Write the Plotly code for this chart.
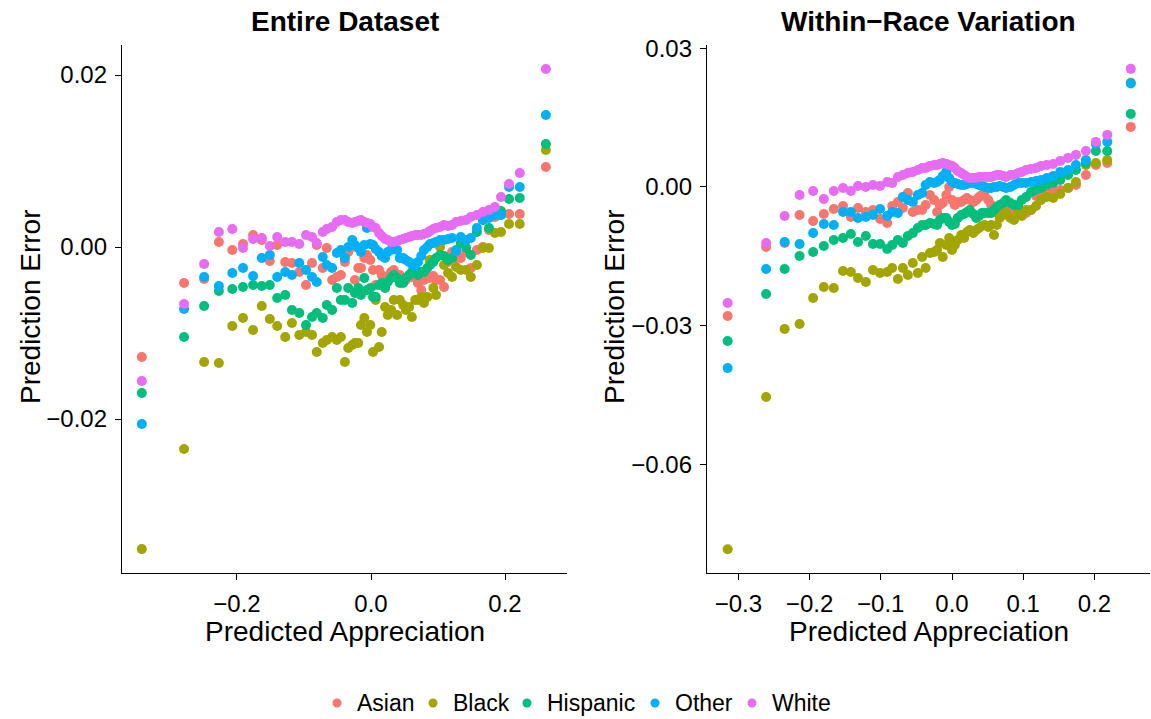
import plotly.graph_objects as go

# ---------------------------------------------------------------------------
# Data: binned predicted appreciation (x) and mean prediction error per race.
# Error values are stored in thousandths (1e-3) and scaled when plotted.
# ---------------------------------------------------------------------------
races = ["Asian", "Black", "Hispanic", "Other", "White"]
colors = ["#F8766D", "#A3A500", "#00BF7D", "#00B0F6", "#E76BF3"]

# Panel 1: entire dataset
entire_x = [-0.342, -0.279, -0.249, -0.227, -0.207, -0.191, -0.176, -0.163, -0.151, -0.140,
            -0.128, -0.118, -0.107, -0.097, -0.088, -0.081, -0.072, -0.066, -0.058, -0.051,
            -0.045, -0.039, -0.034, -0.028, -0.024, -0.019, -0.015, -0.010, -0.006, -0.001,
            0.003, 0.007, 0.012, 0.016, 0.021, 0.025, 0.030, 0.034, 0.039, 0.043,
            0.048, 0.052, 0.057, 0.061, 0.066, 0.070, 0.075, 0.079, 0.084, 0.088,
            0.093, 0.097, 0.103, 0.109, 0.115, 0.121, 0.127, 0.134, 0.142, 0.149,
            0.158, 0.167, 0.176, 0.185, 0.194, 0.206, 0.222, 0.261]

entire_asian = [-12.79, -4.19, -3.72, 0.58, -0.35, 0.35, 1.40, 0.81, -1.63, 0.23,
                -1.74, -1.86, -2.91, -4.42, -1.86, 0.23, -2.44, -0.12, -3.84, -3.49,
                -3.26, -1.74, -0.58, 0.00, -3.84, -2.44, -2.44, -1.28, -0.93, -1.51,
                -2.67, -4.42, -2.67, -3.26, -4.07, -3.49, -2.91, -2.67, -3.26, -3.26,
                -3.60, -3.84, -3.26, -3.49, -2.91, -4.19, -5.00, -3.84, -3.37, -3.60,
                -3.37, -3.84, -3.84, -4.65, -1.74, -0.58, -1.28, -1.28, -0.58, -2.44,
                -0.35, 0.00, 1.98, 3.49, 3.72, 3.84, 3.84, 9.30]
entire_black = [-35.12, -23.49, -13.37, -13.49, -9.19, -8.26, -9.65, -6.86, -8.37, -9.19,
                -10.47, -8.84, -10.23, -9.88, -10.23, -12.21, -11.16, -10.81, -10.47, -10.81,
                -10.47, -13.37, -11.74, -11.40, -11.16, -11.16, -9.07, -8.26, -9.88, -9.07,
                -12.21, -6.16, -11.63, -9.88, -6.98, -7.91, -7.33, -6.16, -7.91, -6.16,
                -6.74, -7.33, -6.98, -8.14, -6.16, -6.16, -5.81, -6.51, -5.81, -1.51,
                -4.77, -5.58, 0.00, -2.09, -3.02, -3.49, -2.33, -2.67, -2.67, -3.49,
                -2.09, -0.12, -0.12, 1.63, 1.74, 2.67, 2.67, 11.28]
entire_hispanic = [-16.98, -10.47, -6.86, -5.12, -4.88, -4.65, -4.42, -4.53, -4.42, -5.93,
                   -5.58, -7.33, -7.67, -9.07, -8.14, -7.67, -8.26, -6.74, -7.33, -4.77,
                   -6.16, -6.16, -4.77, -6.51, -5.35, -4.77, -5.58, -3.60, -5.00, -4.77,
                   -5.81, -5.81, -4.42, -4.19, -4.77, -4.07, -3.60, -3.26, -3.60, -4.19,
                   -4.19, -3.60, -3.26, -2.91, -2.79, -3.26, -2.91, -2.91, -2.44, -2.09,
                   -1.74, -1.28, -0.93, -1.05, -1.51, -1.28, -0.35, 0.47, -0.12, -0.93,
                   1.74, 3.14, 2.21, 3.72, 4.19, 5.58, 5.70, 11.98]
entire_other = [-20.58, -7.21, -3.49, -4.53, -3.02, -2.44, -3.37, -1.28, -0.93, -3.49,
                -2.91, -3.26, -1.86, -2.67, -3.49, -4.07, -1.16, -2.09, -2.44, -0.70,
                -0.35, -1.28, 0.00, 0.81, 0.23, -0.12, -0.58, 0.23, 2.21, 0.35,
                0.23, -0.23, -0.58, -1.05, -1.28, -0.58, -0.35, -0.12, -0.35, -1.28,
                -1.28, -1.51, -1.74, -1.98, -2.21, -1.74, -1.05, -0.35, 0.00, 0.35,
                0.47, 0.58, 0.81, 0.81, 0.93, 1.05, -0.47, 1.16, 0.81, 1.05,
                2.21, 3.14, 3.37, 3.72, 3.72, 6.98, 6.98, 15.35]
entire_white = [-15.58, -6.63, -1.98, 1.74, 2.09, -0.12, 0.93, 1.05, 0.12, 1.16,
                0.58, 0.58, 0.35, 1.40, 1.16, 0.47, 1.74, 2.09, 2.33, 2.91,
                3.14, 3.14, 2.91, 2.79, 2.91, 3.02, 3.14, 2.91, 2.79, 2.67,
                2.33, 2.21, 1.63, 1.28, 0.93, 0.81, 0.58, 0.58, 0.70, 0.81,
                0.93, 1.05, 1.16, 1.28, 1.40, 1.40, 1.40, 1.51, 1.63, 1.86,
                2.09, 2.21, 2.33, 2.56, 2.44, 2.56, 2.91, 3.02, 3.14, 3.49,
                3.72, 4.07, 4.30, 4.65, 5.81, 7.33, 8.60, 20.70]

# Panel 2: within-race variation
within_x = [-0.315, -0.261, -0.235, -0.214, -0.195, -0.180, -0.166, -0.153, -0.142, -0.132,
            -0.121, -0.111, -0.101, -0.091, -0.084, -0.076, -0.069, -0.062, -0.055, -0.048,
            -0.042, -0.037, -0.031, -0.025, -0.021, -0.017, -0.013, -0.008, -0.004, 0.000,
            0.004, 0.008, 0.013, 0.017, 0.021, 0.025, 0.030, 0.034, 0.038, 0.042,
            0.046, 0.051, 0.055, 0.059, 0.063, 0.067, 0.072, 0.076, 0.082, 0.087,
            0.093, 0.098, 0.104, 0.111, 0.118, 0.125, 0.133, 0.142, 0.152, 0.163,
            0.174, 0.188, 0.202, 0.218, 0.251]

within_asian = [-27.92, -12.99, -12.12, -6.06, -7.36, -5.84, -4.76, -4.11, -6.49, -4.55,
                -5.41, -4.98, -6.93, -7.79, -4.11, -3.25, -4.55, -1.30, -5.41, -4.98,
                -4.98, -3.90, -1.73, -2.81, -5.41, -3.90, -3.46, -1.73, 0.00, -2.81,
                -3.90, -3.25, -3.25, -2.81, -2.38, -2.81, -3.25, -2.81, -2.16, -1.73,
                -1.95, -2.81, -3.90, -4.98, -5.41, -6.06, -4.98, -3.90, -4.98, -4.55,
                -4.98, -5.41, -5.63, -4.98, -1.95, -1.30, -1.08, -0.65, -0.65, -0.22,
                0.43, 2.60, 4.76, 5.19, 12.99]
within_black = [-78.35, -45.45, -30.74, -29.65, -24.03, -21.65, -21.86, -18.18, -18.40, -19.70,
                -20.56, -17.97, -18.61, -18.40, -17.53, -19.91, -17.53, -19.05, -16.45, -18.61,
                -15.15, -17.53, -14.29, -14.07, -13.64, -12.12, -15.15, -12.55, -11.04, -13.64,
                -12.55, -11.47, -10.39, -11.04, -9.74, -9.31, -9.96, -9.31, -8.87, -8.44,
                -8.23, -8.66, -8.23, -10.39, -8.23, -6.71, -6.06, -5.63, -6.71, -7.14,
                -5.41, -6.28, -4.98, -4.98, -4.11, -2.81, -2.16, -2.38, -1.52, -0.22,
                1.08, 4.76, 5.19, 5.84, 22.51]
within_hispanic = [-33.33, -23.16, -17.75, -14.94, -14.07, -12.77, -11.47, -11.04, -10.17, -11.90,
                   -10.61, -12.34, -12.34, -13.42, -12.55, -11.47, -12.12, -10.61, -9.96, -8.87,
                   -8.23, -8.23, -7.79, -8.01, -8.23, -7.14, -6.71, -6.71, -7.58, -8.23,
                   -8.01, -6.71, -6.06, -5.84, -5.41, -4.98, -5.84, -6.71, -6.28, -5.63,
                   -5.63, -5.63, -5.63, -4.98, -4.33, -3.90, -3.46, -2.81, -3.46, -3.90,
                   -3.90, -2.81, -2.16, -1.08, -0.65, -0.22, 0.43, 0.87, 1.52, 2.60,
                   3.68, 5.19, 7.79, 7.79, 15.80]
within_other = [-39.18, -17.75, -11.90, -12.34, -9.96, -8.01, -8.23, -5.41, -5.41, -6.71,
                -6.49, -6.06, -4.76, -6.28, -5.41, -5.63, -2.16, -2.81, -3.25, -1.73,
                -1.30, 0.43, 1.08, 0.87, 1.08, 1.52, 2.38, 3.25, 1.95, 1.08,
                0.87, 0.65, 0.43, 0.43, 0.65, 0.87, 0.87, 0.65, 0.43, 0.22,
                0.00, -0.22, -0.22, 0.00, 0.00, 0.22, 0.00, -0.22, 0.00, 0.43,
                0.87, 0.87, 0.87, 1.08, 1.30, 1.52, 1.95, 2.38, 3.25, 3.68,
                4.76, 5.84, 9.31, 9.74, 22.38]
within_white = [-25.11, -12.12, -6.28, -1.73, -0.87, -2.60, -0.87, -0.22, -0.87, 0.22,
                0.00, 0.43, 0.22, 1.08, 0.87, 2.16, 2.60, 3.03, 3.25, 3.68,
                4.11, 4.11, 4.55, 4.76, 4.76, 4.98, 5.19, 4.98, 4.76, 4.55,
                4.11, 3.46, 3.03, 2.60, 2.16, 1.95, 1.95, 1.95, 2.16, 2.16,
                2.16, 2.16, 2.16, 2.38, 2.60, 2.60, 2.38, 2.16, 2.60, 2.60,
                3.03, 3.25, 3.68, 3.90, 4.11, 4.55, 4.76, 4.98, 5.63, 6.28,
                6.93, 7.79, 9.74, 11.26, 25.54]

entire_series = [entire_asian, entire_black, entire_hispanic, entire_other, entire_white]
within_series = [within_asian, within_black, within_hispanic, within_other, within_white]

FONT = "Liberation Sans, Arial, Helvetica, sans-serif"
W, H = 1151, 719

fig = go.Figure()

for race, color, ys in zip(races, colors, entire_series):
    fig.add_trace(go.Scatter(
        x=entire_x, y=[v * 1e-3 for v in ys], mode="markers", name=race,
        showlegend=False,
        marker=dict(color=color, size=10, line=dict(width=0)),
        xaxis="x", yaxis="y"))

for race, color, ys in zip(races, colors, within_series):
    fig.add_trace(go.Scatter(
        x=within_x, y=[v * 1e-3 for v in ys], mode="markers", name=race,
        showlegend=False,
        marker=dict(color=color, size=10, line=dict(width=0)),
        xaxis="x2", yaxis="y2"))

# plot-area extents in pixels
L1, R1 = 122, 567
L2, R2 = 707, 1150
TOP, BOT = 45, 573

axis_common = dict(
    showline=True, linecolor="black", linewidth=1.3,
    ticks="outside", ticklen=6, tickwidth=1.3, tickcolor="black",
    showgrid=False, zeroline=False,
    tickfont=dict(family=FONT, size=24, color="black"),
    ticklabelstandoff=3,
)

ydom = [(H - BOT) / H, (H - TOP) / H]

fig.update_layout(
    width=W, height=H,
    margin=dict(l=0, r=0, t=0, b=0, autoexpand=False),
    paper_bgcolor="white", plot_bgcolor="white",
    font=dict(family=FONT, color="black"),
    showlegend=False,
    xaxis=dict(domain=[L1 / W, R1 / W], range=[-0.3716, 0.2925], anchor="y",
               tickvals=[-0.2, 0.0, 0.2], tickformat=".1f", **axis_common),
    yaxis=dict(domain=ydom, range=[-0.0379, 0.02349], anchor="x",
               tickvals=[-0.02, 0.0, 0.02], tickformat=".2f", **axis_common),
    xaxis2=dict(domain=[L2 / W, R2 / W], range=[-0.344, 0.278], anchor="y2",
                tickvals=[-0.3, -0.2, -0.1, 0.0, 0.1, 0.2], tickformat=".1f", **axis_common),
    yaxis2=dict(domain=ydom, range=[-0.0835, 0.0307], anchor="x2",
                tickvals=[-0.06, -0.03, 0.0, 0.03], tickformat=".2f", **axis_common),
)


def px_x(p):
    return p / W


def px_y(p):
    return (H - p) / H


annotations = [
    dict(text="<b>Entire Dataset</b>", x=px_x((L1 + R1) / 2), y=px_y(21), font=dict(size=28)),
    dict(text="<b>Within\u2212Race Variation</b>", x=px_x((L2 + R2) / 2), y=px_y(21), font=dict(size=28)),
    dict(text="Predicted Appreciation", x=px_x((L1 + R1) / 2), y=px_y(631), font=dict(size=28)),
    dict(text="Predicted Appreciation", x=px_x((L2 + R2) / 2), y=px_y(631), font=dict(size=28)),
    dict(text="Prediction Error", x=px_x(30), y=px_y(307), textangle=-90, font=dict(size=28)),
    dict(text="Prediction Error", x=px_x(614), y=px_y(307), textangle=-90, font=dict(size=28)),
]
for a in annotations:
    a.update(xanchor="center")

# Legend row along the bottom: coloured dot followed by the race name
legend_dot_x = [337, 433, 527, 655, 752]
LEG_Y = 703
shapes = []
for race, color, dx in zip(races, colors, legend_dot_x):
    shapes.append(dict(type="circle", xref="paper", yref="paper",
                       x0=px_x(dx - 4.5), x1=px_x(dx + 4.5),
                       y0=px_y(LEG_Y + 4.5), y1=px_y(LEG_Y - 4.5),
                       fillcolor=color, line=dict(width=0)))
    annotations.append(dict(text=race, x=px_x(dx + 18), y=px_y(LEG_Y),
                            xanchor="left", font=dict(size=23)))

for a in annotations:
    a.setdefault("xanchor", "center")
    a.update(xref="paper", yref="paper", yanchor="middle", showarrow=False)
    a["font"].update(family=FONT, color="black")

fig.update_layout(annotations=annotations, shapes=shapes)

fig.write_html("out.html")
